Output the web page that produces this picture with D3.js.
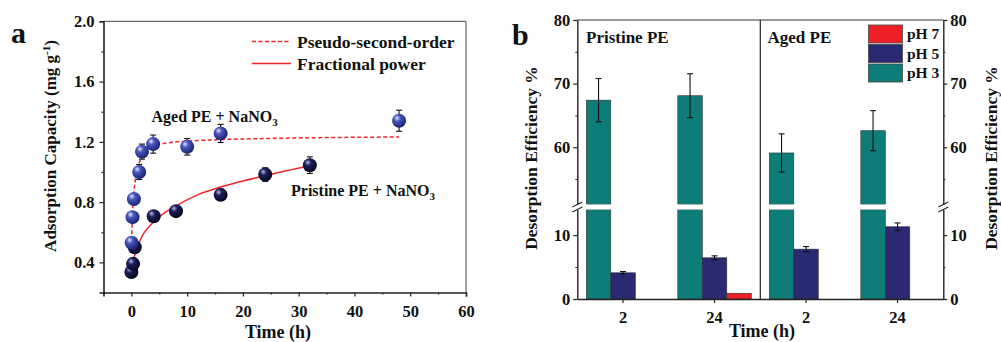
<!DOCTYPE html>
<html><head><meta charset="utf-8">
<script src="https://cdn.jsdelivr.net/npm/d3@7"></script>
<style>
html,body{margin:0;padding:0;background:#fff;}
svg text{font-family:"Times New Roman","Liberation Serif","DejaVu Serif",serif !important;font-weight:bold;fill:#111;}
</style></head>
<body>
<svg id="chart" width="1001" height="342"></svg>
<script>
// ---------- Panel a data ----------
const agedTime   = [0.05, 0.2, 0.45, 1.4, 1.9, 3.9, 10, 16, 48];
const agedQ      = [0.53, 0.70, 0.82, 1.00, 1.135, 1.185, 1.167, 1.256, 1.34];
const agedErr    = [0.02, 0.02, 0.03, 0.05, 0.05, 0.06, 0.055, 0.06, 0.07];
const pristTime  = [0.0, 0.3, 0.6, 4, 8, 16, 24, 32];
const pristQ     = [0.336, 0.39, 0.50, 0.706, 0.74, 0.848, 0.983, 1.045];
const pristErr   = [0.02, 0.02, 0.02, 0.02, 0.02, 0.02, 0.045, 0.055];
// fitted curves
const psoTime  = [0, 0.1, 0.25, 0.5, 0.75, 1, 1.5, 2, 3, 4, 6, 8, 10, 16, 24, 32, 40, 48];
const psoQ     = [0.50, 0.63, 0.76, 0.88, 0.96, 1.01, 1.07, 1.11, 1.15, 1.17, 1.19, 1.20, 1.205, 1.215, 1.222, 1.227, 1.23, 1.232];
const fpTime   = [0.18, 0.3, 0.5, 0.75, 1, 1.5, 2, 3, 4, 6, 8, 12, 16, 20, 24, 28, 32];
const fpQ      = [0.35, 0.39, 0.43, 0.47, 0.50, 0.54, 0.58, 0.63, 0.67, 0.73, 0.775, 0.85, 0.90, 0.94, 0.975, 1.01, 1.04];
const aXTicks  = [0, 10, 20, 30, 40, 50, 60];
const aYTicks  = [0.4, 0.8, 1.2, 1.6, 2.0];

// ---------- Panel b data ----------
const bCategories = ["Pristine 2", "Pristine 24", "Aged 2", "Aged 24"];
const bTickLabels = ["2", "24", "2", "24"];
const bSeries     = ["pH 3", "pH 5", "pH 7"];
const pH3Values   = [67.4, 68.1, 59.1, 62.6];
const pH3Err      = [3.4, 3.45, 3.0, 3.15];
const pH5Values   = [4.1, 6.45, 7.8, 11.3];
const pH5Err      = [0.2, 0.3, 0.4, 0.6];
const pH7Values   = [0, 0.9, 0, 0];
const pH7Err      = [0, 0, 0, 0];
const bUpperTicks = [60, 70, 80];
const bLowerTicks = [0, 10];

const svg = d3.select("#chart");
const defs = svg.append("defs");
function sphere(id, hi, mid, dark){
  const g = defs.append("radialGradient").attr("id", id)
    .attr("cx","38%").attr("cy","35%").attr("r","65%").attr("fx","35%").attr("fy","30%");
  g.append("stop").attr("offset","0%").attr("stop-color",hi);
  g.append("stop").attr("offset","35%").attr("stop-color",mid);
  g.append("stop").attr("offset","100%").attr("stop-color",dark);
}
sphere("gAged", "#e6e8ff", "#4a57c0", "#1c2370");
sphere("gPrist", "#b8bbd8", "#1c1f5c", "#05061c");

// =================== Panel a ===================
const ax = d3.scaleLinear().domain([-5, 60]).range([103.5, 466]);
const ay = d3.scaleLinear().domain([0.2, 2.0]).range([292.5, 21.3]);
const A = svg.append("g");

// box top/right
A.append("path").attr("d", `M${ax(-5)},${ay(2.0)}H${ax(60)}V${ay(0.2)}`)
  .attr("fill","none").attr("stroke","#444").attr("stroke-width",1);

// axes
const gxa = A.append("g").attr("transform",`translate(0,${ay(0.2)})`)
  .call(d3.axisBottom(ax).tickValues(aXTicks).tickSize(4).tickFormat(d3.format("d")));
A.append("g").attr("transform",`translate(0,${ay(0.2)})`)
  .call(d3.axisBottom(ax).tickValues([-5,5,15,25,35,45,55]).tickSize(2).tickFormat(""))
  .call(g=>g.select(".domain").remove());
const gya = A.append("g").attr("transform",`translate(${ax(-5)},0)`)
  .call(d3.axisLeft(ay).tickValues(aYTicks).tickSize(4).tickFormat(d3.format(".1f")));
A.append("g").attr("transform",`translate(${ax(-5)},0)`)
  .call(d3.axisLeft(ay).tickValues([0.6,1.0,1.4,1.8]).tickSize(2).tickFormat(""))
  .call(g=>g.select(".domain").remove());
[gxa, gya].forEach(g=>{
  g.select(".domain").attr("stroke","#222").attr("stroke-width",1.6);
  g.selectAll(".tick text").style("font-size","16.5px").attr("fill","#111");
});
A.selectAll(".tick line").attr("stroke","#222").attr("stroke-width",1.2);
gxa.selectAll(".tick text").attr("dy","1.05em");
gya.selectAll(".tick text").attr("dx","-2");

// axis titles
A.append("text").attr("x", 278).attr("y", 338).attr("text-anchor","middle")
  .style("font-size","18px").text("Time (h)");
const yt = A.append("text").attr("transform","translate(56,146) rotate(-90)")
  .attr("text-anchor","middle").style("font-size","17px");
yt.append("tspan").text("Adsorption Capacity (mg g");
yt.append("tspan").attr("dy","-6").style("font-size","11px").text("-1");
yt.append("tspan").attr("dy","6").text(")");
A.append("text").attr("x",11).attr("y",43).style("font-size","30px").text("a");

// fit curves
const clip = defs.append("clipPath").attr("id","clipA");
clip.append("rect").attr("x",ax(-5)).attr("y",ay(2.0)).attr("width",ax(60)-ax(-5)).attr("height",ay(0.2)-ay(2.0));
const line = d3.line().x(d=>ax(d[0])).y(d=>ay(d[1])).curve(d3.curveMonotoneX);
A.append("path").datum(d3.zip(psoTime, psoQ)).attr("d", line).attr("clip-path","url(#clipA)")
  .attr("fill","none").attr("stroke","#f2262a").attr("stroke-width",1.5).attr("stroke-dasharray","4,2.5");
A.append("path").datum(d3.zip(fpTime, fpQ)).attr("d", line).attr("clip-path","url(#clipA)")
  .attr("fill","none").attr("stroke","#f2262a").attr("stroke-width",1.5);

// error bars + markers
function points(times, qs, errs, grad){
  const data = times.map((t,i)=>({t, q:qs[i], e:errs[i]}));
  const eb = A.append("g").attr("stroke","#111").attr("stroke-width",1.1);
  data.forEach(d=>{
    const x = ax(d.t), y1 = ay(d.q+d.e), y2 = ay(d.q-d.e);
    eb.append("line").attr("x1",x).attr("x2",x).attr("y1",y1).attr("y2",y2);
    eb.append("line").attr("x1",x-3).attr("x2",x+3).attr("y1",y1).attr("y2",y1);
    eb.append("line").attr("x1",x-3).attr("x2",x+3).attr("y1",y2).attr("y2",y2);
  });
  A.append("g").selectAll("circle").data(data).join("circle")
    .attr("cx",d=>ax(d.t)).attr("cy",d=>ay(d.q)).attr("r",7)
    .attr("fill",`url(#${grad})`);
}
points(pristTime, pristQ, pristErr, "gPrist");
points(agedTime, agedQ, agedErr, "gAged");

// annotations
const aged = A.append("text").attr("x",151.5).attr("y",122).style("font-size","16px");
aged.append("tspan").text("Aged PE + NaNO");
aged.append("tspan").attr("dy","4").style("font-size","11px").text("3");
const pr = A.append("text").attr("x",291).attr("y",196).style("font-size","16px");
pr.append("tspan").text("Pristine PE + NaNO");
pr.append("tspan").attr("dy","4").style("font-size","11px").text("3");

// legend a
A.append("line").attr("x1",252).attr("x2",291).attr("y1",41.5).attr("y2",41.5)
  .attr("stroke","#f2262a").attr("stroke-width",1.5).attr("stroke-dasharray","4,2.5");
A.append("text").attr("x",297).attr("y",47.5).style("font-size","17.5px").text("Pseudo-second-order");
A.append("line").attr("x1",252).attr("x2",291).attr("y1",63.5).attr("y2",63.5)
  .attr("stroke","#f2262a").attr("stroke-width",1.5);
A.append("text").attr("x",297).attr("y",69.5).style("font-size","17.5px").text("Fractional power");

// =================== Panel b ===================
const B = svg.append("g");
const bx = d3.scaleBand().domain(bCategories).range([577.3, 943.3]).paddingInner(0).paddingOuter(0);
const bs = d3.scaleBand().domain(bSeries).range([-36.75, 36.75]);
const yUp = d3.scaleLinear().domain([51, 80]).range([204.5, 20]);
const yLo = d3.scaleLinear().domain([0, 14]).range([299, 209.5]);
const colors = {"pH 3":"#0e7d77", "pH 5":"#2a2a72", "pH 7":"#ee1f27"};
const vals = {"pH 3":pH3Values, "pH 5":pH5Values, "pH 7":pH7Values};
const errs = {"pH 3":pH3Err, "pH 5":pH5Err, "pH 7":pH7Err};
const L = bx.range()[0], R = bx.range()[1];

const barData = [];
bSeries.forEach(s=>bCategories.forEach((c,i)=>{ if (vals[s][i] > 0) barData.push({s, c, v:vals[s][i], e:errs[s][i]}); }));
const bxPos = d=>bx(d.c)+bx.bandwidth()/2+bs(d.s);

// lower segment bars
B.append("g").selectAll("rect").data(barData).join("rect")
  .attr("x",bxPos).attr("width",bs.bandwidth())
  .attr("y",d=>yLo(Math.min(d.v,14))).attr("height",d=>yLo(0)-yLo(Math.min(d.v,14)))
  .attr("fill",d=>colors[d.s]).attr("stroke","#333").attr("stroke-width",0.6);
// upper segment bars
B.append("g").selectAll("rect").data(barData.filter(d=>d.v>51)).join("rect")
  .attr("x",bxPos).attr("width",bs.bandwidth())
  .attr("y",d=>yUp(d.v)).attr("height",d=>yUp(51)-yUp(d.v))
  .attr("fill",d=>colors[d.s]).attr("stroke","#333").attr("stroke-width",0.6);
// white break band
B.append("rect").attr("x",L).attr("width",R-L).attr("y",yUp(51)).attr("height",yLo(14)-yUp(51)).attr("fill","#fff");

// error bars
const beb = B.append("g").attr("stroke","#111").attr("stroke-width",1.1);
barData.filter(d=>d.e>0).forEach(d=>{
  const ys = d.v>51 ? yUp : yLo;
  const x = bxPos(d)+bs.bandwidth()/2, y1 = ys(d.v+d.e), y2 = ys(d.v-d.e);
  beb.append("line").attr("x1",x).attr("x2",x).attr("y1",y1).attr("y2",y2);
  beb.append("line").attr("x1",x-3).attr("x2",x+3).attr("y1",y1).attr("y2",y1);
  beb.append("line").attr("x1",x-3).attr("x2",x+3).attr("y1",y2).attr("y2",y2);
});

// frame: top, divider
B.append("line").attr("x1",L).attr("x2",R).attr("y1",20).attr("y2",20).attr("stroke","#333").attr("stroke-width",1);
const divX = (bx("Pristine 24")+bx("Aged 2")+bx.bandwidth())/2;
B.append("line").attr("x1",divX).attr("x2",divX)
  .attr("y1",20).attr("y2",299).attr("stroke","#222").attr("stroke-width",1.2);

function styleAxis(g){
  g.select(".domain").attr("stroke","#222").attr("stroke-width",1.4);
  g.selectAll(".tick line").attr("stroke","#222").attr("stroke-width",1.2);
  g.selectAll(".tick text").style("font-size","16.5px").attr("fill","#111");
}
[[d3.axisLeft, L], [d3.axisRight, R]].forEach(([fn, xpos])=>{
  const gu = B.append("g").attr("transform",`translate(${xpos},0)`).call(fn(yUp).tickValues(bUpperTicks).tickSize(4).tickSizeOuter(0));
  const gl = B.append("g").attr("transform",`translate(${xpos},0)`).call(fn(yLo).tickValues(bLowerTicks).tickSize(4).tickSizeOuter(0));
  styleAxis(gu); styleAxis(gl);
  B.append("g").attr("transform",`translate(${xpos},0)`).call(fn(yUp).tickValues([55,65,75]).tickSize(2).tickFormat(""))
    .call(g=>g.select(".domain").remove()).selectAll("line").attr("stroke","#222");
  B.append("g").attr("transform",`translate(${xpos},0)`).call(fn(yLo).tickValues([5]).tickSize(2).tickFormat(""))
    .call(g=>g.select(".domain").remove()).selectAll("line").attr("stroke","#222");
  // break marks
  [yUp(51), yLo(14)].forEach(yy=>{
    B.append("line").attr("x1",xpos-5).attr("x2",xpos+5).attr("y1",yy+2.5).attr("y2",yy-2.5)
      .attr("stroke","#222").attr("stroke-width",1.1);
  });
});
// bottom axis
const gxb = B.append("g").attr("transform",`translate(0,299)`)
  .call(d3.axisBottom(bx).tickSize(4).tickSizeOuter(0).tickFormat((d,i)=>bTickLabels[i]));
styleAxis(gxb);
gxb.selectAll(".tick text").attr("dy","1.05em");

// titles
B.append("text").attr("x",762).attr("y",337).attr("text-anchor","middle").style("font-size","18px").text("Time (h)");
B.append("text").attr("transform","translate(537,158) rotate(-90)").attr("text-anchor","middle")
  .style("font-size","17.5px").text("Desorption Efficiency %");
B.append("text").attr("transform","translate(996.5,158) rotate(-90)").attr("text-anchor","middle")
  .style("font-size","17.5px").text("Desorption Efficiency %");
B.append("text").attr("x",512).attr("y",45).style("font-size","30px").text("b");
B.append("text").attr("x",586).attr("y",43).style("font-size","17px").text("Pristine PE");
B.append("text").attr("x",767.5).attr("y",43).style("font-size","17px").text("Aged PE");

// legend b
const legOrder = ["pH 7", "pH 5", "pH 3"];
const lg = B.append("g");
legOrder.forEach((s,i)=>{
  lg.append("rect").attr("x",868.5).attr("y",25+i*19.5).attr("width",34).attr("height",18)
    .attr("fill",colors[s]).attr("stroke","#444").attr("stroke-width",0.8);
  lg.append("text").attr("x",907).attr("y",39+i*19.5).style("font-size","15.5px").text(s);
});
</script>
</body></html>
